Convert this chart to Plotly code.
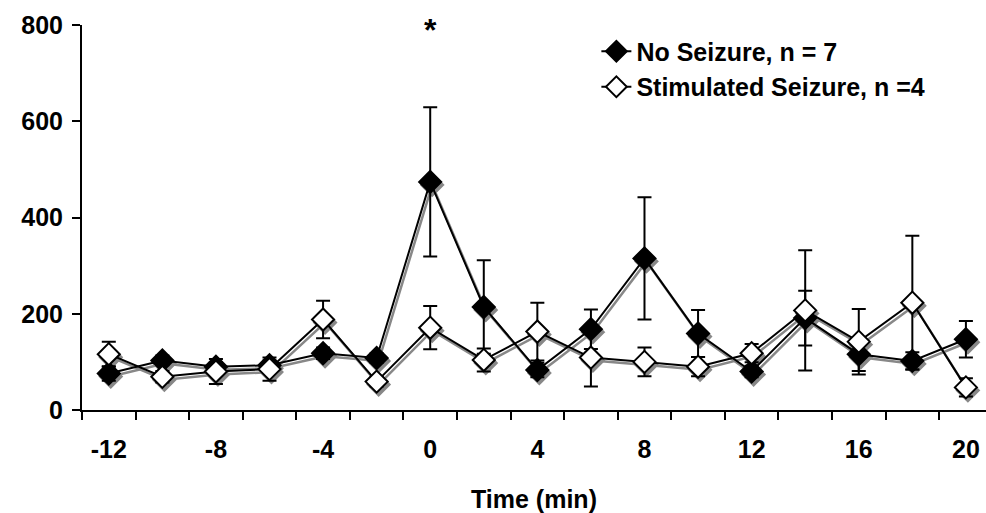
import plotly.graph_objects as go

time = [-12, -10, -8, -6, -4, -2, 0, 2, 4, 6, 8, 10, 12, 14, 16, 18, 20]
no_seizure = [76, 103, 90, 93, 118, 108, 474, 214, 83, 168, 315, 159, 80, 191, 116, 102, 147]
no_seizure_err = [15, 10, 10, 10, 12, 10, 155, 97, 15, 41, 127, 49, 12, 57, 35, 18, 38]
stim_seizure = [116, 69, 80, 85, 188, 59, 171, 104, 163, 109, 100, 90, 118, 207, 142, 223, 47]
stim_seizure_err = [26, 12, 26, 24, 39, 10, 45, 24, 60, 60, 30, 20, 19, 125, 68, 139, 19]
x_tick_labels = ["-12", "-8", "-4", "0", "4", "8", "12", "16", "20"]
x_tick_vals = [-12, -8, -4, 0, 4, 8, 12, 16, 20]
x_minor_vals = [-13, -11, -9, -7, -5, -3, -1, 1, 3, 5, 7, 9, 11, 13, 15, 17, 19]
y_tick_vals = [0, 200, 400, 600, 800]

W, H = 986, 513
ml, mr, mt, mb = 82, 0, 25, 103
xr = [-13, 20.75]
yr = [0, 800]
ppx = (W - ml - mr) / (xr[1] - xr[0])
ppy = (H - mt - mb) / (yr[1] - yr[0])
dx, dy = 2, 3
xr_sh = [xr[0] - dx / ppx, xr[1] - dx / ppx]
yr_sh = [yr[0] + dy / ppy, yr[1] + dy / ppy]

FONT = "Arial, Liberation Sans, sans-serif"
FS = 25
fig = go.Figure()

# placeholder on the visible axes
fig.add_trace(go.Scatter(x=[time[0]], y=[None], xaxis="x", yaxis="y",
                         showlegend=False, hoverinfo="skip"))

# shadows
for ys in (no_seizure, stim_seizure):
    fig.add_trace(go.Scatter(
        x=time, y=ys, xaxis="x2", yaxis="y2", mode="lines+markers",
        line=dict(color="#888888", width=2.5),
        marker=dict(symbol="diamond", size=17, color="#888888",
                    line=dict(color="#888888", width=2)),
        showlegend=False, hoverinfo="skip", cliponaxis=False))

fig.add_trace(go.Scatter(
    x=time, y=no_seizure, xaxis="x3", yaxis="y3", mode="lines+markers",
    name="No Seizure, n = 7", legendgroup="a",
    line=dict(color="black", width=2),
    marker=dict(symbol="diamond", size=17, color="black",
                line=dict(color="black", width=2)),
    error_y=dict(type="data", array=no_seizure_err, color="black",
                 thickness=2, width=7),
    cliponaxis=False))
fig.add_trace(go.Scatter(
    x=time, y=stim_seizure, xaxis="x3", yaxis="y3", mode="lines+markers",
    name="Stimulated Seizure, n =4", legendgroup="b",
    line=dict(color="black", width=2),
    marker=dict(symbol="diamond", size=17, color="white",
                line=dict(color="black", width=2)),
    error_y=dict(type="data", array=stim_seizure_err, color="black",
                 thickness=2, width=7),
    cliponaxis=False))

hidden = dict(visible=False, showgrid=False, zeroline=False, fixedrange=True)

fig.update_layout(
    width=W, height=H,
    margin=dict(l=ml, r=mr, t=mt, b=mb, autoexpand=False),
    paper_bgcolor="white", plot_bgcolor="white",
    font=dict(family=FONT, size=FS, color="black", weight="bold"),
    showlegend=True,
    legend=dict(x=0.569, y=0.991, xanchor="left", yanchor="top",
                bgcolor="rgba(0,0,0,0)", borderwidth=0,
                traceorder="grouped", tracegroupgap=0,
                font=dict(family=FONT, size=FS, color="black", weight="bold")),
    xaxis=dict(range=xr, showgrid=False, zeroline=False, automargin=False,
               showline=True, linecolor="black", linewidth=2,
               tickvals=x_tick_vals, ticktext=x_tick_labels, ticks="",
               ticklabelstandoff=16,
               minor=dict(tickvals=x_minor_vals, ticks="outside", ticklen=8,
                          tickwidth=2, tickcolor="black"),
               title=dict(text="Time (min)", standoff=28,
                          font=dict(family=FONT, size=FS, color="black", weight="bold"))),
    yaxis=dict(range=yr, showgrid=False, zeroline=False, automargin=False,
               showline=True, linecolor="black", linewidth=2,
               tickvals=y_tick_vals, ticks="outside", ticklen=8, tickwidth=2,
               tickcolor="black", ticklabelstandoff=4),
    xaxis2=dict(range=xr_sh, overlaying="x", **hidden),
    yaxis2=dict(range=yr_sh, overlaying="y", **hidden),
    xaxis3=dict(range=xr, overlaying="x", **hidden),
    yaxis3=dict(range=yr, overlaying="y", **hidden),
    annotations=[dict(x=0, y=790, xref="x3", yref="y3", text="*",
                      showarrow=False, font=dict(family=FONT, size=32, color="black", weight="bold"))],
)

fig.write_html("out.html", config={"displayModeBar": False},
               post_script="document.body.style.margin='0';")
